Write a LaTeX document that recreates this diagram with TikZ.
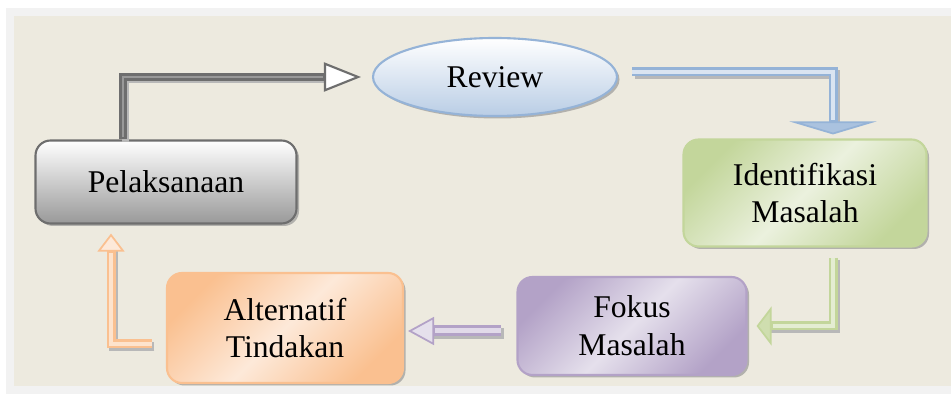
\documentclass[tikz,border=0pt]{standalone}
\usepackage{fontspec}
\setmainfont{Liberation Serif}
\usetikzlibrary{shapes.geometric,shadows,arrows.meta}

\definecolor{bgbeige}{HTML}{EDEADF}
\definecolor{bggray}{HTML}{F2F2F2}
\definecolor{gryline}{HTML}{6E6E6E}
\definecolor{bluline}{HTML}{95B3D7}
\definecolor{blufill}{HTML}{B9CDE5}
\definecolor{grnline}{HTML}{C3D69B}
\definecolor{grnfill}{HTML}{EBF1DE}
\definecolor{purline}{HTML}{B3A2C7}
\definecolor{purfill}{HTML}{E5E0EC}
\definecolor{orgline}{HTML}{FAC090}
\definecolor{orgfill}{HTML}{FDE9D9}

\begin{document}
\begin{tikzpicture}[scale=1.0,
  box/.style={rectangle, rounded corners=0.3cm, align=center, inner sep=0pt,
    line width=1.2pt, font=\fontsize{18}{21.6}\selectfont,
    drop shadow={shadow xshift=0.05cm, shadow yshift=-0.05cm, fill=black!45, opacity=0.6}},
  shine/.style={draw=#1line, left color=#1line, right color=#1line, middle color=#1fill, shading angle=45},
  pipe/.style={line width=0.18cm},
  core/.style={line width=0.07cm},
  shade/.style={black!28, line width=0.18cm, transform canvas={shift={(0.05cm,-0.05cm)}}}]
\useasboundingbox (0,0) rectangle (19.02,7.88);
\fill[white] (0,0) rectangle (19.02,7.88);
\fill[bggray] (0.12,0) rectangle (19.02,7.72);
\fill[bgbeige] (0.28,0.16) rectangle (19.02,7.56);

% boxes
\node[box, ellipse, rounded corners=0pt, minimum width=4.88cm, minimum height=1.56cm,
  draw=bluline, top color=white, bottom color=blufill] (rev) at (9.9,6.34) {Review};
\node[box, minimum width=5.22cm, minimum height=1.66cm,
  draw=gryline, top color=white, bottom color=black!40] (pel) at (3.32,4.24) {Pelaksanaan};
\node[box, shine=grn, minimum width=4.86cm, minimum height=2.14cm] (idf) at (16.1,4.02) {Identifikasi\\Masalah};
\node[box, shine=pur, minimum width=4.58cm, minimum height=1.96cm] (fok) at (12.64,1.36) {Fokus\\Masalah};
\node[box, shine=org, minimum width=4.72cm, minimum height=2.2cm] (alt) at (5.7,1.32) {Alternatif\\Tindakan};

% Pelaksanaan -> Review
\draw[shade, line width=0.15cm, shorten >=0.6cm] ([xshift=-0.86cm]pel.north) |- (rev.west);
\draw[gryline, line width=0.15cm, shorten >=0.22cm,
  -{Triangle[open, length=0.74cm, width=0.58cm, line width=1.2pt, fill=white]}]
  ([xshift=-0.86cm]pel.north) |- (rev.west);
\draw[black!40, core, line width=0.05cm, shorten <=0.04cm, shorten >=0.97cm]
  ([xshift=-0.86cm]pel.north) |- (rev.west);

% Review -> Identifikasi
\draw[shade, shorten >=0.3cm] ([shift={(0.28cm,0.1cm)}]rev.east) -| ([xshift=0.56cm]idf.north);
\draw[bluline, pipe, shorten >=0.08cm,
  -{Triangle[length=0.26cm, width=1.74cm, line width=1pt, fill=bluline!80]}]
  ([shift={(0.28cm,0.1cm)}]rev.east) -| ([xshift=0.56cm]idf.north);
\draw[bluline!35!white, core, shorten >=0.36cm]
  ([shift={(0.28cm,0.1cm)}]rev.east) -| ([xshift=0.56cm]idf.north);

% Identifikasi -> Fokus
\draw[shade, shorten <=0.2cm, shorten >=0.3cm] ([xshift=0.56cm]idf.south) |- (fok.east);
\draw[grnline, pipe, shorten <=0.2cm, shorten >=0.18cm,
  -{Triangle[length=0.3cm, width=0.78cm, line width=1pt, fill=grnline!80!white]}]
  ([xshift=0.56cm]idf.south) |- (fok.east);
\draw[grnline!45!white, core, shorten <=0.2cm, shorten >=0.5cm]
  ([xshift=0.56cm]idf.south) |- (fok.east);

% Fokus -> Alternatif
\draw[shade, line width=0.22cm, shorten <=0.3cm, shorten >=0.3cm]
  ([yshift=-0.1cm]fok.west) -- ([yshift=-0.1cm]fok.west -| alt.east);
\draw[purline, pipe, line width=0.22cm, shorten <=0.3cm, shorten >=0.08cm,
  -{Triangle[length=0.52cm, width=0.56cm, line width=1pt, fill=purfill]}]
  ([yshift=-0.1cm]fok.west) -- ([yshift=-0.1cm]fok.west -| alt.east);
\draw[purline!40!white, core, line width=0.1cm, shorten <=0.3cm, shorten >=0.62cm]
  ([yshift=-0.1cm]fok.west) -- ([yshift=-0.1cm]fok.west -| alt.east);

% Alternatif -> Pelaksanaan
\draw[shade, shorten <=0.28cm, shorten >=0.4cm] ([yshift=-0.32cm]alt.west) -| ([xshift=-1.1cm]pel.south);
\draw[orgline, pipe, shorten <=0.28cm, shorten >=0.18cm,
  -{Triangle[length=0.36cm, width=0.54cm, line width=1pt, fill=orgfill]}]
  ([yshift=-0.32cm]alt.west) -| ([xshift=-1.1cm]pel.south);
\draw[orgline!45!white, core, shorten <=0.28cm, shorten >=0.56cm]
  ([yshift=-0.32cm]alt.west) -| ([xshift=-1.1cm]pel.south);
\end{tikzpicture}
\end{document}
